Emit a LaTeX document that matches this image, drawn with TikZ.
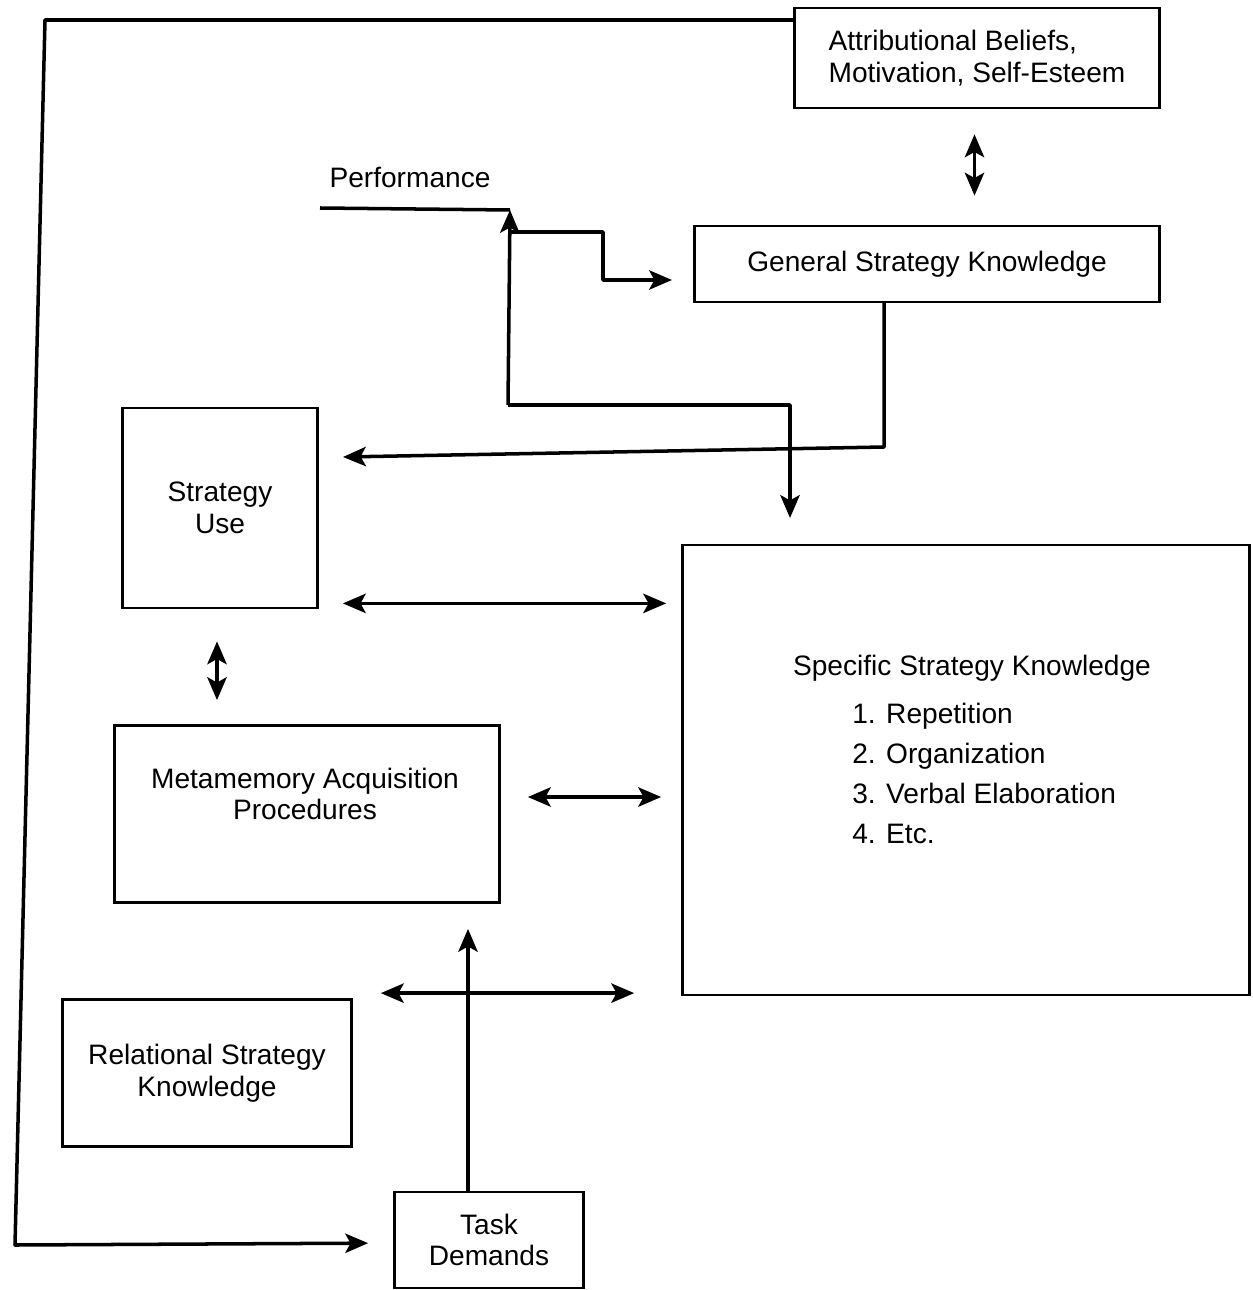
\documentclass[tikz,border=0pt]{standalone}
\usepackage{fontspec}
\setmainfont{Liberation Sans}
\usetikzlibrary{arrows.meta,positioning}
\tikzset{
  box/.style={draw, line width=1.6pt, inner sep=0pt, align=center, font=\fontsize{16}{18}\selectfont},
  txt/.style={inner sep=0pt, align=center, font=\fontsize{16}{18}\selectfont},
  wire/.style={line width=2pt, line join=round},
  link/.style={wire, -{Stealth[length=13pt,width=11pt,inset=3pt]}},
  twoway/.style={wire, {Stealth[length=13pt,width=11pt,inset=3pt]}-{Stealth[length=13pt,width=11pt,inset=3pt]}},
}
\begin{document}
\begin{tikzpicture}[x=0.02cm, y=-0.02cm]
  \useasboundingbox (0,0) rectangle (1252,1290);

  % boxes
  \node[box, minimum width=7.3cm, minimum height=2cm, align=left] (attr) at (977,58)
    {Attributional Beliefs,\\Motivation, Self-Esteem};
  \node[box, minimum width=9.3cm, minimum height=1.52cm] (gen) at (927,264) {General Strategy Knowledge};
  \node[box, minimum width=3.9cm, minimum height=4cm] (use) at (220,508) {Strategy\\Use};
  \node[box, minimum width=11.34cm, minimum height=9cm] (spec) at (966,770) {};
  \node[box, minimum width=7.7cm, minimum height=3.54cm] (meta) at (307,814) {};
  \node[box, minimum width=5.78cm, minimum height=2.94cm] (rel) at (207,1073) {Relational Strategy\\Knowledge};
  \node[box, minimum width=3.78cm, minimum height=1.92cm] (task) at (489,1240) {Task\\Demands};

  % texts
  \node[txt] (perf) at (410,177) {Performance};
  \node[txt] (metatext) at (305,794) {Metamemory Acquisition\\Procedures};
  \node[txt] (spectitle) at (972,668) {Specific Strategy Knowledge};
  \node[txt, align=left, anchor=north west, font=\fontsize{16}{22.8}\selectfont] (speclist) at (852,703)
    {1. Repetition\\2. Organization\\3. Verbal Elaboration\\4. Etc.};

  % points on the wires
  \coordinate (perfstart) at (320,208);
  \coordinate (perfend) at (510,210);
  \coordinate (fork) at (508,405);
  \coordinate (tap) at (510,232);
  \coordinate (genin) at (672,280);
  \coordinate (specin) at (790,518);
  \coordinate (genout) at (884,302);
  \coordinate (usein) at (343,457);
  \coordinate (loopstart) at (795,20);
  \coordinate (loopNW) at (45,20);
  \coordinate (loopSW) at (15,1245);

  % connectors
  \draw[link] (loopstart) -- (loopNW) -- (loopSW) -- ([yshift=-0.06cm]task.west) [shorten >=0.5cm];
  \draw[wire] (perfstart) -- (perfend);
  \draw[link] (fork) -- (perfend);
  \draw[link] (tap) -| (603,256) |- (genin);
  \draw[link] (fork) -| (specin);
  \draw[link] (genout) -- (884,447) -- (usein);
  \draw[twoway, shorten <=0.5cm, shorten >=0.58cm] ([xshift=-0.05cm]attr.south) -- ([xshift=-0.05cm]attr.south |- gen.north);
  \draw[twoway, shorten <=0.48cm, shorten >=0.3cm] ([yshift=0.12cm]use.south east) -- ([yshift=0.12cm]use.south east -| spec.west);
  \draw[twoway, shorten <=0.64cm, shorten >=0.48cm] ([xshift=-0.06cm]use.south) -- ([xshift=-0.06cm]use.south |- meta.north);
  \draw[twoway, shorten <=0.54cm, shorten >=0.4cm] ([yshift=0.34cm]meta.east) -- ([yshift=0.34cm]meta.east -| spec.west);
  \draw[twoway, shorten <=0.56cm, shorten >=0.94cm] ([yshift=0.1cm]rel.north east) -- ([yshift=0.1cm]rel.north east -| spec.west);
  \draw[link, shorten >=0.5cm] ([xshift=-0.42cm]task.north) -- ([xshift=-0.42cm]task.north |- meta.south);
\end{tikzpicture}
\end{document}
